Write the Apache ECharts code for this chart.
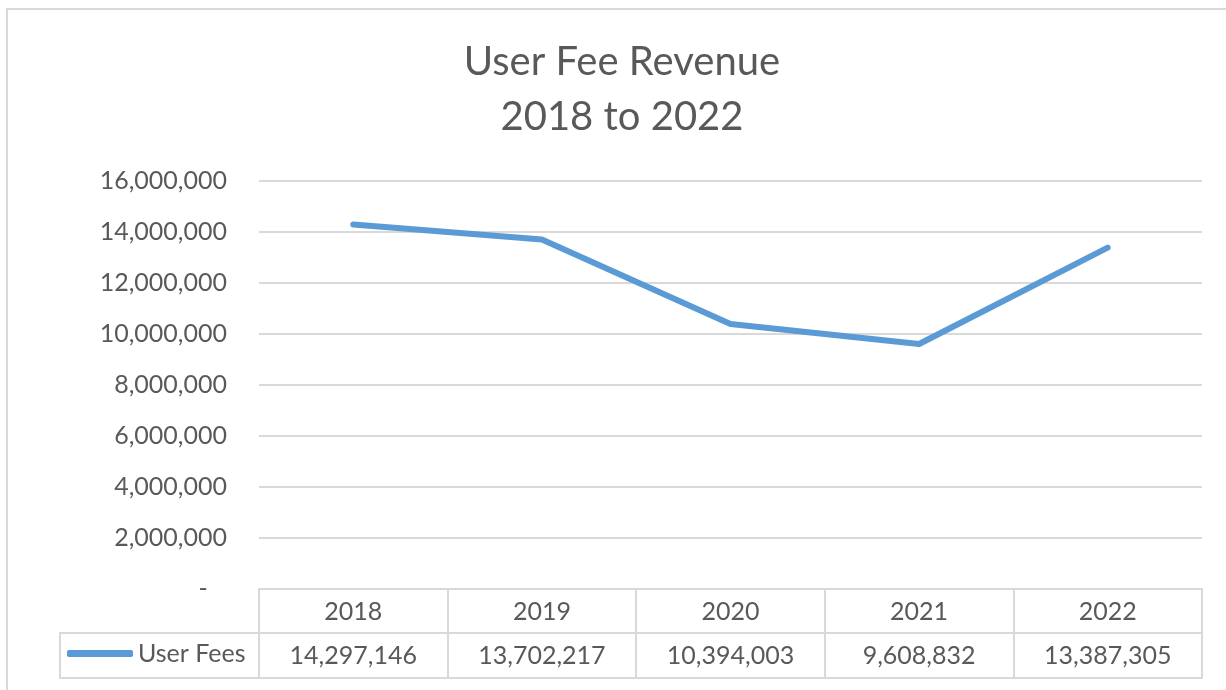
<!DOCTYPE html>
<html>
<head>
<meta charset="utf-8">
<title>User Fee Revenue</title>
<script src="https://cdn.jsdelivr.net/npm/echarts@6/dist/echarts.min.js"></script>
<style>
  html, body { margin: 0; padding: 0; background: #fff; }
  #chart { width: 1226px; height: 690px; }
</style>
</head>
<body>
<div id="chart"></div>
<script>
// data
const years = ['2018', '2019', '2020', '2021', '2022']
const userFees = [14297146, 13702217, 10394003, 9608832, 13387305]
const seriesName = 'User Fees'
const yMin = 0
const yMax = 16000000
const yStep = 2000000

const grey = '#d9d9d9'
const textGrey = '#595959'
const blue = '#5b9bd5'
const font = 'Lato'

const fmt = v => v.toLocaleString('en-US')

const chart = echarts.init(document.getElementById('chart'))

const option = {
  animation: false,
  backgroundColor: '#fff',
  title: {
    text: 'User Fee Revenue\n2018 to 2022',
    // the chart frame runs past the right edge, so the title sits a bit right of the window centre
    left: 622,
    textAlign: 'center',
    top: 35,
    padding: 0,
    textStyle: {
      color: textGrey,
      fontFamily: font,
      fontSize: 40,
      fontWeight: 'normal',
      lineHeight: 55
    }
  },
  legend: {
    data: [seriesName],
    left: 67,
    top: 641,
    padding: 0,
    icon: 'roundRect',
    itemWidth: 66,
    itemHeight: 7,
    textStyle: { color: textGrey, fontFamily: font, fontSize: 25 }
  },
  grid: {
    left: 259, right: 24, top: 181, bottom: 101
  },
  xAxis: [
    {
      // header row of the data table
      type: 'category',
      data: years,
      position: 'bottom',
      boundaryGap: true,
      axisLine: { lineStyle: { color: grey, width: 2 } },
      axisTick: { show: true, length: 44, lineStyle: { color: grey, width: 2 } },
      axisLabel: { color: textGrey, fontFamily: font, fontSize: 25, margin: 10 },
      splitLine: { show: false }
    },
    {
      // value row of the data table
      type: 'category',
      data: userFees.map(fmt),
      position: 'bottom',
      offset: 44,
      boundaryGap: true,
      axisLine: { lineStyle: { color: grey, width: 2 } },
      axisTick: { show: true, length: 45, lineStyle: { color: grey, width: 2 } },
      axisLabel: { color: textGrey, fontFamily: font, fontSize: 25, margin: 10 },
      splitLine: { show: false }
    },
    {
      // bottom edge of the table
      type: 'category',
      data: years,
      position: 'bottom',
      offset: 89,
      axisLine: { lineStyle: { color: grey, width: 2 } },
      axisTick: { show: false },
      axisLabel: { show: false }
    }
  ],
  yAxis: {
    type: 'value',
    min: yMin,
    max: yMax,
    interval: yStep,
    axisLine: { show: false },
    axisTick: { show: false },
    axisLabel: {
      color: textGrey,
      fontFamily: font,
      fontSize: 25,
      margin: 32,
      formatter: v => (v === 0 ? '-   ' : fmt(v))
    },
    splitLine: { lineStyle: { color: grey, width: 2 } }
  },
  graphic: [
    {
      // chart area frame
      type: 'rect',
      silent: true,
      shape: { x: 7, y: 9, width: 1240, height: 700 },
      style: { fill: 'none', stroke: grey, lineWidth: 2 }
    },
    {
      // legend key cell of the data table
      type: 'rect',
      silent: true,
      shape: { x: 60, y: 633, width: 199, height: 45 },
      style: { fill: 'none', stroke: grey, lineWidth: 2 }
    }
  ],
  series: [
    {
      name: seriesName,
      type: 'line',
      xAxisIndex: 0,
      data: userFees,
      symbol: 'none',
      itemStyle: { color: blue },
      lineStyle: { color: blue, width: 6, cap: 'round', join: 'round' }
    }
  ]
}

chart.setOption(option)
</script>
</body>
</html>
